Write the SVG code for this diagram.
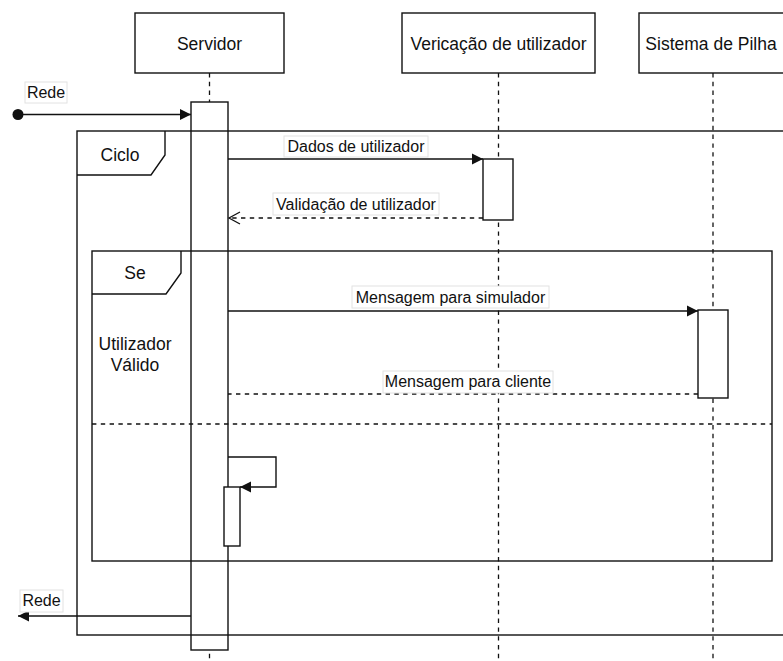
<svg xmlns="http://www.w3.org/2000/svg" width="783" height="661" viewBox="0 0 783 661">
  <defs>
    <marker id="solid" markerUnits="userSpaceOnUse" markerWidth="12" markerHeight="12" refX="11" refY="6" orient="auto">
      <path d="M0,0.5 L11,6 L0,11.5 Z" fill="#111"/>
    </marker>
    <marker id="open" markerUnits="userSpaceOnUse" markerWidth="14" markerHeight="14" refX="12" refY="7" orient="auto">
      <path d="M1,1 L12,7 L1,13" fill="none" stroke="#111" stroke-width="1.3"/>
    </marker>
  </defs>
  <style>
    text { font-family: "Liberation Sans", Arial, Helvetica, sans-serif; fill: #111; }
    .title { font-size: 17.5px; text-anchor: middle; }
    .lbl { font-size: 16px; text-anchor: middle; }
    .box { fill: #fff; stroke: #111; stroke-width: 1.4; }
    .life { fill: none; stroke: #111; stroke-width: 1.3; stroke-dasharray: 4.4 4.4; }
    .frame { fill: none; stroke: #111; stroke-width: 1.4; }
    .msg { fill: none; stroke: #111; stroke-width: 1.4; }
    .ret { fill: none; stroke: #111; stroke-width: 1.3; stroke-dasharray: 4.4 4.4; }
    .tag { fill: #fff; stroke: #e2e2e2; stroke-width: 1; }
  </style>

  <rect width="783" height="661" fill="#fff"/>

  <!-- lifelines -->
  <g id="servidor">
    <rect class="box" x="135" y="13" width="149" height="60"/>
    <text class="title" x="209.5" y="50">Servidor</text>
    <line class="life" x1="209.5" y1="73" x2="209.5" y2="661"/>
    <rect class="box" x="191" y="102" width="37" height="548"/>
  </g>

  <g id="verificacao">
    <rect class="box" x="402" y="13" width="193" height="60"/>
    <text class="title" x="498.5" y="50">Vericação de utilizador</text>
    <line class="life" x1="498.5" y1="73" x2="498.5" y2="661"/>
    <rect class="box" x="483" y="159" width="30" height="61"/>
  </g>

  <g id="sistema">
    <rect class="box" x="639" y="13" width="149" height="60"/>
    <text class="title" x="711" y="50">Sistema de Pilha</text>
    <line class="life" x1="713" y1="73" x2="713" y2="661"/>
    <rect class="box" x="698" y="310" width="30" height="88"/>
  </g>

  <!-- combined fragments -->
  <g id="ciclo">
    <rect class="frame" x="77" y="131" width="720" height="504"/>
    <path class="frame" d="M77,175 H151 L165,155 V131"/>
    <text class="title" x="120" y="161">Ciclo</text>
  </g>

  <g id="se">
    <rect class="frame" x="92" y="251" width="680" height="310"/>
    <path class="frame" d="M92,294 H166 L181,273 V251"/>
    <text class="title" x="135" y="279">Se</text>
    <line class="ret" x1="92" y1="424" x2="772" y2="424"/>
    <text class="title" x="135" y="350">Utilizador</text>
    <text class="title" x="135" y="371">Válido</text>
  </g>

  <!-- self call activation -->
  <g id="servidor-self">
    <rect class="box" x="224" y="487" width="16" height="59"/>
  </g>

  <!-- messages -->
  <g id="connectors">
    <circle cx="18" cy="114.5" r="5.5" fill="#111"/>
    <line class="msg" x1="18" y1="114.5" x2="191" y2="114.5" marker-end="url(#solid)"/>
    <rect class="tag" x="25" y="82" width="42" height="21"/>
    <text class="lbl" x="46" y="97.5">Rede</text>

    <line class="msg" x1="228" y1="159" x2="483" y2="159" marker-end="url(#solid)"/>
    <rect class="tag" x="284" y="136" width="144" height="21"/>
    <text class="lbl" x="356" y="152">Dados de utilizador</text>

    <line class="ret" x1="483" y1="218" x2="229" y2="218" marker-end="url(#open)"/>
    <rect class="tag" x="273" y="193" width="166" height="22"/>
    <text class="lbl" x="356" y="209.5">Validação de utilizador</text>

    <line class="msg" x1="228" y1="311" x2="698" y2="311" marker-end="url(#solid)"/>
    <rect class="tag" x="352" y="286" width="197" height="22"/>
    <text class="lbl" x="450.5" y="302.5">Mensagem para simulador</text>

    <line class="ret" x1="698" y1="394" x2="228" y2="394"/>
    <rect class="tag" x="383" y="371" width="170" height="22"/>
    <text class="lbl" x="468" y="387">Mensagem para cliente</text>

    <path class="msg" d="M228,457 H276 V487 H240" marker-end="url(#solid)"/>

    <line class="msg" x1="191" y1="616" x2="18" y2="616" marker-end="url(#solid)"/>
    <rect class="tag" x="20" y="590" width="43" height="22"/>
    <text class="lbl" x="41.5" y="605.5">Rede</text>
  </g>
</svg>
